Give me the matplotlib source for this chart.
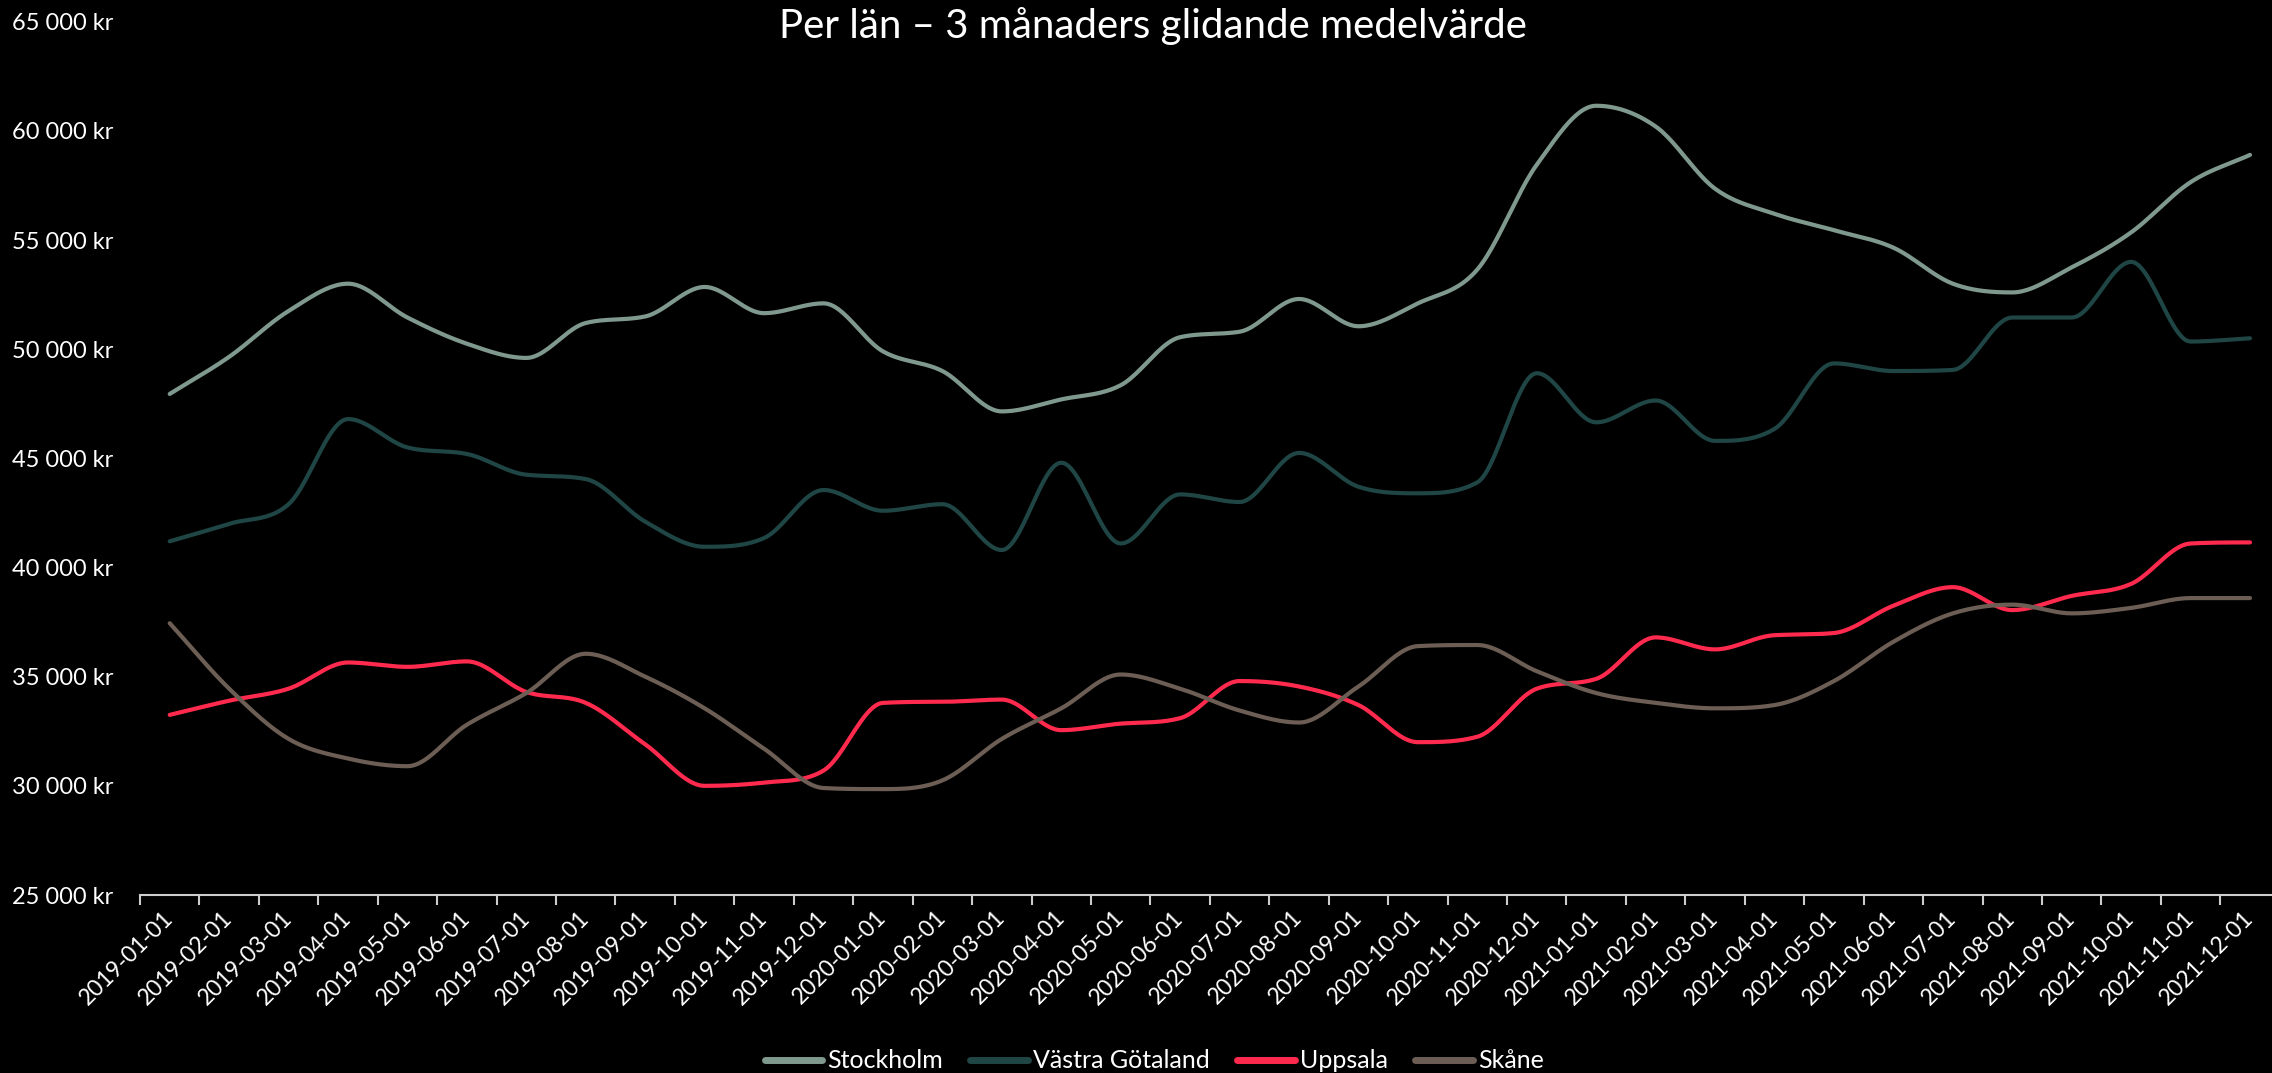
import numpy as np
import pandas as pd
import matplotlib
matplotlib.use("Agg")
import matplotlib.pyplot as plt
from matplotlib.ticker import FuncFormatter


TITLE = "Per län – 3 månaders glidande medelvärde"

MONTHS = pd.date_range("2019-01-01", periods=36, freq="MS").strftime("%Y-%m-%d").tolist()

STOCKHOLM = [47950, 49650, 51750, 53000, 51450, 50250, 49600, 51200, 51500, 52850,
             51650, 52100, 49900, 49000, 47150, 47700, 48350, 50550, 50800, 52300,
             51050, 52100, 53650, 58450, 61150, 60200, 57350, 56200, 55450, 54650,
             53000, 52600, 53750, 55350, 57650, 58900]

VASTRA_GOTALAND = [41200, 42000, 42900, 46800, 45500, 45200, 44250, 44050, 42100, 40950,
                   41350, 43550, 42600, 42900, 40800, 44800, 41100, 43350, 43000, 45250,
                   43700, 43400, 43900, 48900, 46650, 47650, 45800, 46350, 49350, 49000,
                   49050, 51450, 51450, 54000, 50350, 50500]

UPPSALA = [33250, 33900, 34450, 35650, 35450, 35700, 34300, 33800, 31900, 30000,
           30150, 30700, 33800, 33850, 33950, 32550, 32850, 33100, 34800, 34550,
           33700, 32000, 32250, 34450, 34900, 36800, 36250, 36900, 37000, 38250,
           39100, 38050, 38700, 39250, 41100, 41150]

SKANE = [37450, 34450, 32150, 31250, 30900, 32800, 34250, 36050, 35000, 33550,
         31700, 29900, 29850, 30250, 32150, 33550, 35100, 34450, 33450, 32900,
         34550, 36400, 36450, 35250, 34250, 33800, 33550, 33700, 34800, 36600,
         37900, 38300, 37900, 38150, 38600, 38600]

SERIES = [
    ("Stockholm", STOCKHOLM, "#80998e"),
    ("Västra Götaland", VASTRA_GOTALAND, "#1f4544"),
    ("Uppsala", UPPSALA, "#ff2a4d"),
    ("Skåne", SKANE, "#6c5e54"),
]

W, H = 2272, 1073


def monotone_curve(x, y, steps=24):
    # Fritsch-Carlson monotone cubic, only used to draw the line smoothly
    x = np.asarray(x, dtype=float)
    y = np.asarray(y, dtype=float)
    h = np.diff(x)
    delta = np.diff(y) / h

    m = np.zeros_like(y)
    m[0] = delta[0]
    m[-1] = delta[-1]
    for k in range(1, len(y) - 1):
        if delta[k - 1] * delta[k] > 0:
            m[k] = (delta[k - 1] + delta[k]) / 2

    for k in range(len(delta)):
        if delta[k] == 0:
            m[k] = m[k + 1] = 0
            continue
        a = m[k] / delta[k]
        b = m[k + 1] / delta[k]
        s = a * a + b * b
        if s > 9:
            t = 3 / np.sqrt(s)
            m[k] = t * a * delta[k]
            m[k + 1] = t * b * delta[k]

    xs, ys = [], []
    for k in range(len(h)):
        t = np.linspace(0, 1, steps, endpoint=False)
        h00 = 2 * t**3 - 3 * t**2 + 1
        h10 = t**3 - 2 * t**2 + t
        h01 = -2 * t**3 + 3 * t**2
        h11 = t**3 - t**2
        xs.append(x[k] + t * h[k])
        ys.append(h00 * y[k] + h10 * h[k] * m[k] + h01 * y[k + 1] + h11 * h[k] * m[k + 1])
    xs.append([x[-1]])
    ys.append([y[-1]])
    return np.concatenate(xs), np.concatenate(ys)


def kr_format(value, _pos):
    return f"{value:,.0f}".replace(",", " ") + " kr"


def main():
    plt.rcParams["font.family"] = ["Lato", "DejaVu Sans"]

    fig = plt.figure(figsize=(W / 100, H / 100), dpi=100, facecolor="black")
    ax = fig.add_axes([140 / W, 1 - 895 / H, 1 - 140 / W, (895 - 21.7) / H])
    ax.set_facecolor("black")

    x = np.arange(len(MONTHS))
    for name, values, color in SERIES:
        xs, ys = monotone_curve(x, values)
        ax.plot(xs, ys, color=color, linewidth=3, solid_capstyle="round", label=name)

    ax.set_xlim(-0.5, 35.37)
    ax.set_ylim(25000, 65000)

    for side in ["left", "right", "top"]:
        ax.spines[side].set_visible(False)
    ax.spines["bottom"].set_color("#cccccc")
    ax.spines["bottom"].set_linewidth(1.5)

    ax.set_xticks(np.arange(-0.5, 35, 1))
    ax.set_xticklabels([])
    ax.set_xticks(x, minor=True)
    ax.set_xticklabels(MONTHS, minor=True, rotation=45, ha="right",
                       va="center", rotation_mode="anchor")
    ax.tick_params(axis="x", which="major", length=7, width=1.5, color="#cccccc")
    ax.tick_params(axis="x", which="minor", length=0, pad=14,
                   labelsize=16.5, labelcolor="white")

    ax.set_yticks(range(25000, 65001, 5000))
    ax.yaxis.set_major_formatter(FuncFormatter(kr_format))
    ax.tick_params(axis="y", length=0, pad=19, labelsize=17, labelcolor="white")

    fig.text(1153 / W, 1 - 38 / H, TITLE, ha="center", va="baseline",
             fontsize=29, color="white")

    leg = fig.legend(loc="center", bbox_to_anchor=(0.508, 1 - 1061 / H),
                     ncol=4, frameon=False, fontsize=18, labelcolor="white",
                     handlelength=2.3, handletextpad=0.2, columnspacing=1.1)
    for line in leg.get_lines():
        line.set_linewidth(5)
        line.set_solid_capstyle("round")

    fig.savefig("out.png", dpi=100, facecolor="black")
    plt.close(fig)


if __name__ == "__main__":
    main()
